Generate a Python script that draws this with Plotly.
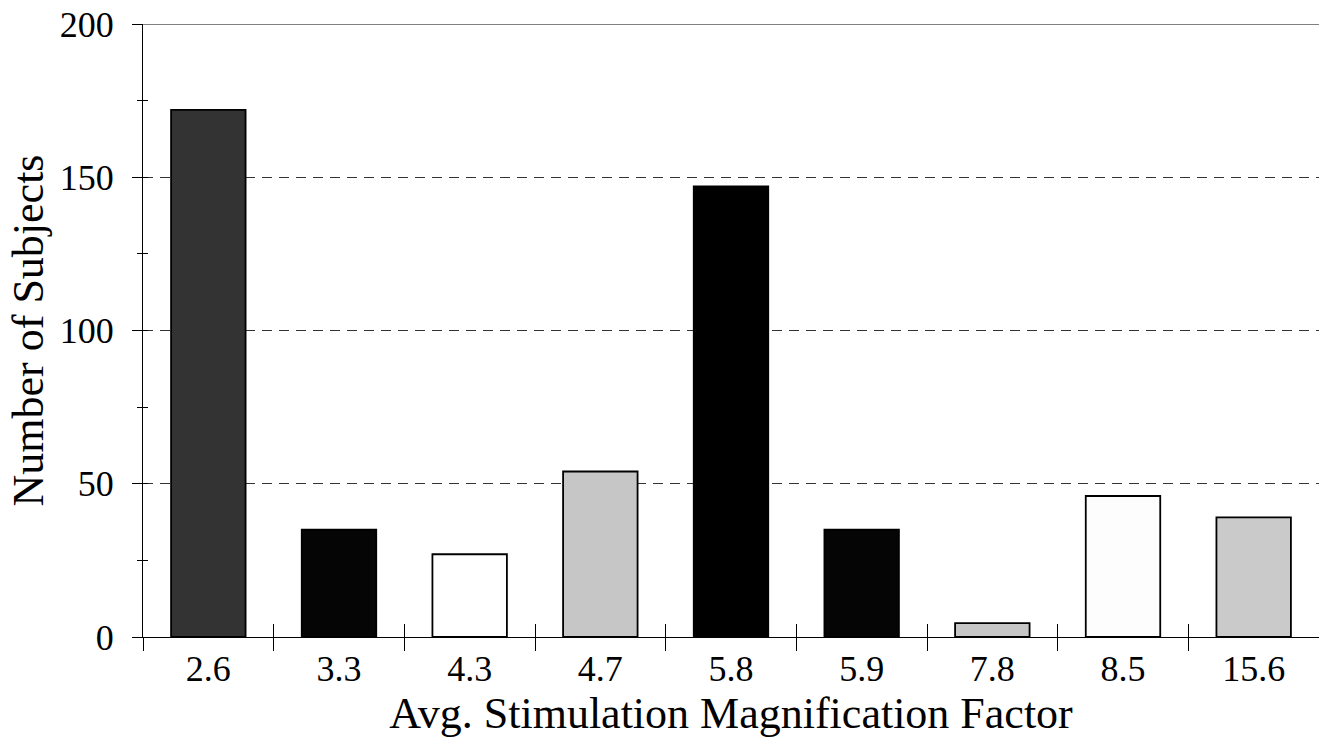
import plotly.graph_objects as go

categories = ["2.6", "3.3", "4.3", "4.7", "5.8", "5.9", "7.8", "8.5", "15.6"]
subjects = [172, 35, 27, 54, 147, 35, 4.5, 46, 39]
bar_colors = ["#333333", "#050505", "#ffffff", "#c6c6c6", "#000000",
              "#050505", "#c6c6c6", "#fdfdfd", "#cacaca"]
y_ticks = [0, 50, 100, 150, 200]

FONT = "Liberation Serif"

fig = go.Figure()
fig.add_trace(go.Bar(
    x=categories, y=subjects,
    marker=dict(color=bar_colors, line=dict(color="black", width=1.8)),
    width=0.57, hoverinfo="skip", showlegend=False,
))
# invisible trace to carry the overlay axes (inside ticks -> cross ticks)
fig.add_trace(go.Scatter(
    x=categories, y=subjects, xaxis="x2", yaxis="y2",
    mode="markers", marker=dict(opacity=0), hoverinfo="skip", showlegend=False,
))

fig.update_layout(
    width=1319, height=739,
    margin=dict(l=143, r=0, t=24, b=102),
    plot_bgcolor="white", paper_bgcolor="white",
    font=dict(family=FONT, color="black"),
    xaxis=dict(
        type="category", categoryorder="array", categoryarray=categories,
        range=[-0.5, 8.5], automargin=False,
        showline=True, linecolor="black", linewidth=1.2, mirror=False,
        ticks="outside", ticklen=13, tickcolor="black", tickwidth=1.2,
        tickson="boundaries",
        tickfont=dict(family=FONT, size=36),
        ticklabelstandoff=0,
        title=dict(text="Avg. Stimulation Magnification Factor",
                   font=dict(family=FONT, size=44), standoff=0),
        showgrid=False, zeroline=False,
    ),
    yaxis=dict(
        range=[0, 200], tickvals=y_ticks, automargin=False,
        showline=True, linecolor="black", linewidth=1.2,
        ticks="outside", ticklen=10, tickcolor="black", tickwidth=1.2,
        minor=dict(dtick=25, tick0=0, ticks="outside", ticklen=5,
                   tickcolor="black", tickwidth=1.2, showgrid=False),
        tickfont=dict(family=FONT, size=36),
        ticklabelstandoff=11,
        showgrid=True, gridcolor="#333333", gridwidth=1, griddash="10px,7px",
        zeroline=False,
        title=dict(text="Number of Subjects",
                   font=dict(family=FONT, size=44), standoff=2),
    ),
    xaxis2=dict(
        type="category", categoryorder="array", categoryarray=categories,
        range=[-0.5, 8.5], overlaying="x", side="bottom", anchor="y2",
        showline=True, linecolor="black", linewidth=1.2, automargin=False,
        ticks="inside", ticklen=13, tickcolor="black", tickwidth=1.2,
        tickson="boundaries", showticklabels=False, showgrid=False, zeroline=False,
    ),
    yaxis2=dict(
        range=[0, 200], tickvals=y_ticks, overlaying="y", side="left", anchor="x2",
        showline=True, linecolor="black", linewidth=1.2, mirror=False,
        automargin=False,
        ticks="inside", ticklen=0, tickcolor="black", tickwidth=1.2,
        minor=dict(dtick=25, tick0=0, ticks="inside", ticklen=5,
                   tickcolor="black", tickwidth=1.2, showgrid=False),
        showticklabels=False, showgrid=False, zeroline=False,
    ),
)
# top border line
fig.add_shape(type="line", xref="paper", yref="y", x0=0, x1=1, y0=200, y1=200,
              line=dict(color="black", width=1.2))

fig.write_html(
    "out.html",
    config={"displayModeBar": False},
    post_script="document.body.style.margin='0';document.body.style.overflow='hidden';",
)
